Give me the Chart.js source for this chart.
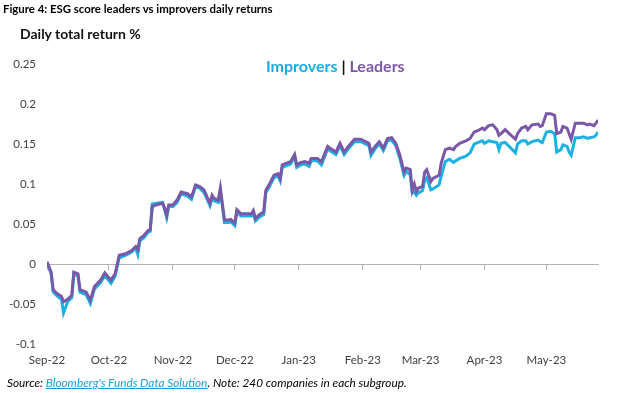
<!DOCTYPE html>
<html>
<head>
<meta charset="utf-8">
<script src="https://cdn.jsdelivr.net/npm/chart.js@4"></script>
<style>
  body { margin: 0; background: #fff; }
  #wrap { position: relative; width: 635px; height: 393px; overflow: hidden; font-family: Lato, "Liberation Sans", sans-serif; }
  #myChart { position: absolute; left: 0; top: 0; }
  .title { position: absolute; left: 3px; top: 2px; font: bold 11.4px Lato, sans-serif; color: #000; white-space: nowrap; }
  .subtitle { position: absolute; left: 20px; top: 25px; font: bold 14px Lato, sans-serif; color: #111; white-space: nowrap; }
  .legend { position: absolute; left: 266px; top: 56px; font: bold 16px Lato, sans-serif; white-space: nowrap; }
  .source { position: absolute; left: 7px; top: 375px; font: italic 11.8px Lato, sans-serif; color: #000; white-space: nowrap; }
  .source a { color: #1a9ed9; text-decoration: underline; }
</style>
</head>
<body>
<div id="wrap">
  <canvas id="myChart" width="635" height="393"></canvas>
  <div class="title">Figure 4: ESG score leaders vs improvers daily returns</div>
  <div class="subtitle">Daily total return %</div>
  <div class="legend"><span style="color:#1cabe2">Improvers</span> <span style="color:#111">|</span> <span style="color:#7a58a8">Leaders</span></div>
  <div class="source">Source: <a>Bloomberg's Funds Data Solution</a>. Note: 240 companies in each subgroup.</div>
</div>
<script>
// days since 1 Sep 2022
const days = [0,2,3,5,7,8,10,12,13,15,16,19,21,23,26,28,31,33,35,38,41,43,44,45,47,49,50,51,53,56,57,58,59,61,63,65,68,70,72,74,76,79,80,81,83,84,86,88,89,91,92,94,97,99,100,101,103,105,106,108,110,112,113,114,118,120,121,123,125,127,128,131,133,136,137,140,142,144,146,149,152,156,157,159,161,163,165,167,169,171,173,174,176,177,178,179,180,182,183,184,186,187,190,191,193,195,197,198,200,203,205,207,209,211,212,214,216,218,219,220,222,224,227,228,230,232,233,235,238,239,240,242,244,246,247,249,250,252,253,254,256,258,260,262,263,265,266,267];

const leaders = [0.003,-0.010,-0.032,-0.037,-0.040,-0.047,-0.044,-0.039,-0.010,-0.012,-0.032,-0.035,-0.045,-0.028,-0.020,-0.011,-0.020,-0.012,0.011,0.013,0.017,0.022,0.018,0.032,0.036,0.042,0.043,0.072,0.074,0.076,0.070,0.061,0.074,0.074,0.080,0.090,0.088,0.084,0.099,0.097,0.093,0.076,0.086,0.082,0.080,0.095,0.055,0.055,0.056,0.051,0.068,0.063,0.063,0.063,0.067,0.057,0.062,0.065,0.092,0.101,0.111,0.113,0.107,0.124,0.128,0.137,0.124,0.127,0.128,0.126,0.132,0.132,0.128,0.147,0.145,0.140,0.151,0.140,0.147,0.156,0.156,0.151,0.140,0.147,0.153,0.145,0.157,0.158,0.151,0.136,0.115,0.120,0.118,0.092,0.100,0.091,0.095,0.097,0.115,0.118,0.103,0.107,0.111,0.126,0.143,0.145,0.143,0.147,0.151,0.154,0.157,0.165,0.167,0.170,0.168,0.173,0.174,0.168,0.161,0.163,0.168,0.163,0.156,0.163,0.170,0.172,0.168,0.174,0.175,0.172,0.173,0.188,0.188,0.186,0.163,0.165,0.172,0.170,0.163,0.156,0.176,0.176,0.176,0.174,0.175,0.173,0.176,0.180];

const improvers = [0.002,-0.012,-0.035,-0.040,-0.044,-0.061,-0.047,-0.042,-0.012,-0.015,-0.035,-0.038,-0.049,-0.031,-0.023,-0.014,-0.024,-0.015,0.008,0.011,0.015,0.020,0.012,0.029,0.033,0.040,0.041,0.075,0.076,0.077,0.068,0.058,0.072,0.072,0.077,0.088,0.085,0.081,0.097,0.095,0.090,0.073,0.083,0.079,0.077,0.092,0.052,0.052,0.053,0.048,0.065,0.060,0.060,0.060,0.064,0.054,0.059,0.062,0.089,0.098,0.108,0.110,0.104,0.121,0.125,0.134,0.121,0.124,0.125,0.122,0.129,0.129,0.124,0.144,0.142,0.137,0.148,0.137,0.144,0.153,0.153,0.148,0.136,0.144,0.150,0.142,0.154,0.155,0.148,0.132,0.111,0.116,0.112,0.089,0.090,0.086,0.089,0.092,0.105,0.108,0.093,0.094,0.099,0.110,0.128,0.131,0.127,0.129,0.132,0.135,0.139,0.150,0.152,0.154,0.151,0.154,0.153,0.152,0.143,0.151,0.152,0.147,0.139,0.150,0.154,0.154,0.150,0.153,0.155,0.153,0.152,0.165,0.166,0.163,0.140,0.143,0.149,0.147,0.140,0.136,0.158,0.158,0.159,0.157,0.158,0.159,0.161,0.165];

const monthLabels = ['Sep-22','Oct-22','Nov-22','Dec-22','Jan-23','Feb-23','Mar-23','Apr-23','May-23'];
const monthDays = [0,30,61,91,122,153,181,212,242];

const yTicks = [0.25,0.2,0.15,0.1,0.05,0,-0.05,-0.1];

function toPoints(vals) {
  return vals.map((v, i) => ({x: days[i], y: v}));
}
function monthTicks(scale) {
  scale.ticks = monthDays.map(d => ({value: d}));
}

var ctx = document.getElementById('myChart').getContext('2d');
var myChart = new Chart(ctx, {
  type: 'line',
  data: {
    datasets: [{
      label: 'Improvers',
      data: toPoints(improvers),
      borderColor: '#1cb0e3',
      borderWidth: 3,
      pointRadius: 0,
      tension: 0,
      order: 2
    }, {
      label: 'Leaders',
      data: toPoints(leaders),
      borderColor: '#7a58a8',
      borderWidth: 3,
      pointRadius: 0,
      tension: 0,
      order: 1
    }]
  },
  options: {
    responsive: false,
    animation: false,
    events: [],
    layout: { padding: { left: 0, right: 37, top: 64, bottom: 17 } },
    plugins: { legend: { display: false }, tooltip: { enabled: false } },
    scales: {
      x: {
        type: 'linear',
        min: 0,
        max: days[days.length - 1],
        position: 'bottom',
        afterBuildTicks: monthTicks,
        grid: { display: false, drawTicks: false },
        border: { display: false },
        ticks: {
          autoSkip: false,
          maxRotation: 0,
          padding: 9,
          color: '#404040',
          font: { family: 'Lato', size: 11.5 },
          callback: (v) => monthLabels[monthDays.indexOf(v)]
        }
      },
      zero: {
        type: 'linear',
        axis: 'x',
        min: 0,
        max: days[days.length - 1],
        position: { y: 0 },
        afterBuildTicks: monthTicks,
        afterFit: (scale) => { scale.height = 0; },
        grid: { drawOnChartArea: false, drawTicks: true, tickLength: 5, color: '#b3b3b3' },
        border: { color: '#b3b3b3', width: 1 },
        ticks: { display: false }
      },
      y: {
        min: -0.1,
        max: 0.25,
        afterBuildTicks: (scale) => { scale.ticks = yTicks.map(v => ({value: v})); },
        afterFit: (scale) => { scale.width = 47; },
        grid: { display: false, drawTicks: false },
        border: { display: false },
        ticks: {
          padding: 11,
          color: '#404040',
          font: { family: 'Lato', size: 11.5 },
          callback: (v) => String(v)
        }
      }
    }
  }
});
</script>
</body>
</html>
